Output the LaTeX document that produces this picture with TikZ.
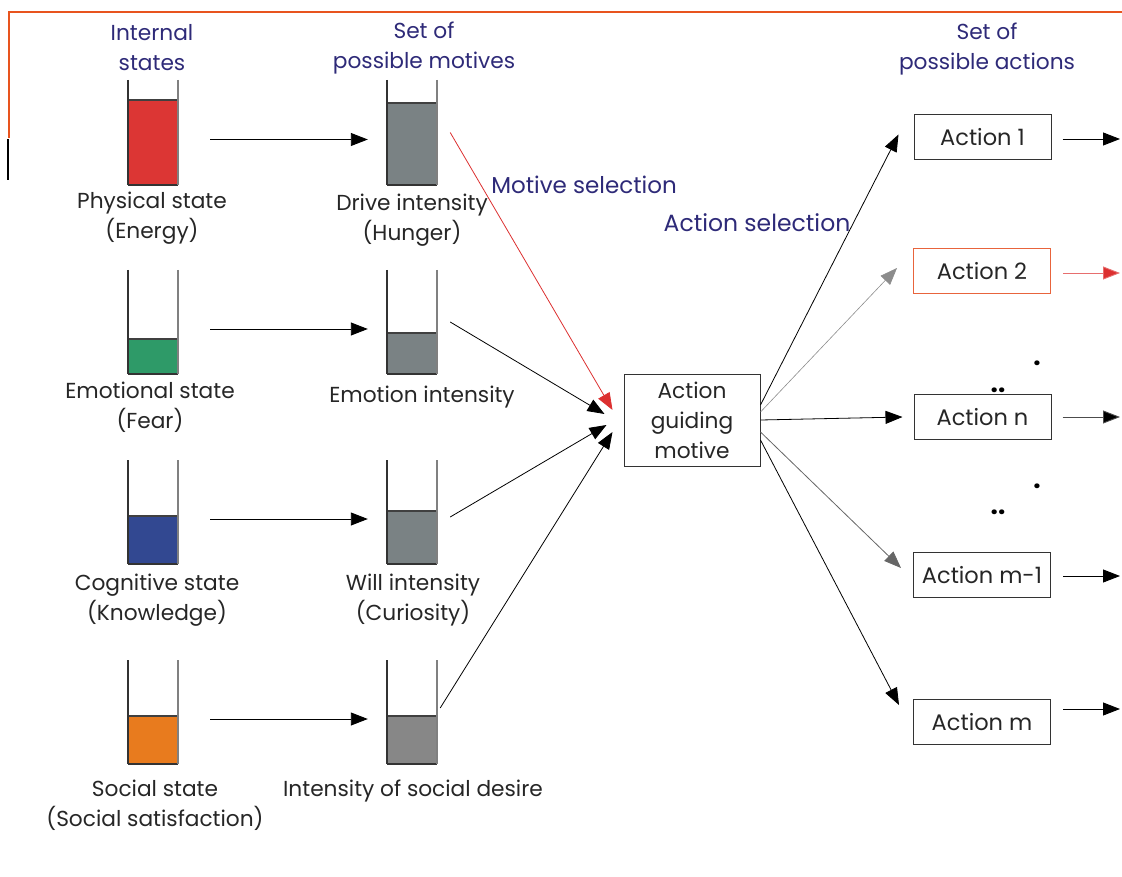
\documentclass[tikz,border=0pt]{standalone}
\usepackage{fontspec}
\setmainfont{Poppins}
\usetikzlibrary{arrows.meta}
\definecolor{hdr}{HTML}{2E2A78}
\definecolor{frameorange}{HTML}{E8541E}
\definecolor{redfill}{HTML}{DC3634}
\definecolor{greenfill}{HTML}{2E9A68}
\definecolor{bluefill}{HTML}{324891}
\definecolor{orangefill}{HTML}{E87B1E}
\definecolor{grayfill}{HTML}{7A8284}
\definecolor{grayfillb}{HTML}{878787}
\definecolor{act2}{HTML}{E8643C}
\definecolor{redarr}{HTML}{DC3030}
\newcommand\jar[6]{% name, xcenter, ytop, yfill, ybottom, colour
  \node[jarnode, minimum height={#5pt-#3pt}] (#1) at (#2,{(#3+#5)/2}) {};
  \fill[#6] (#2-25,#4) rectangle (#2+25,#5);
  \draw[line width=1.1pt, black!75] (#2-25,#4) -- (#2+25,#4);
  \draw[line width=1.1pt, black!80] (#2-25,#5) -- (#2+25,#5);
  \draw[line width=1.2pt, black!80] (#2-25,#3) -- (#2-25,#5);
  \draw[line width=1.2pt, black!50] (#2+25,#3) -- (#2+25,#5);
}
\begin{document}
\begin{tikzpicture}[x=1pt,y=-1pt,
  every node/.style={font=\fontsize{21.7}{30}\selectfont, align=center, inner sep=0pt},
  jarnode/.style={minimum width=50pt, inner sep=0pt},
  hdrtext/.style={text=hdr},
  lbl/.style={text=black!85},
  arr/.style={-{Triangle[length=17pt,width=13pt]}, line width=0.9pt, black},
  darr/.style={-{Triangle[length=17pt,width=13pt]}, line width=0.8pt, black},
  abox/.style={draw=black!80, line width=1pt, minimum width=137pt, minimum height=45pt, text=black!85, font=\fontsize{22.5}{30}\selectfont},
  dotnode/.style={anchor=base, font=\fontsize{26}{30}\selectfont\bfseries},
  ]
\useasboundingbox (0,0) rectangle (1122,877);
% frame
\draw[frameorange, line width=1.5pt] (9,138) -- (9,12) -- (1122,12);
\draw[black, line width=1.2pt] (8,139) -- (8,180);
% headers
\node[hdrtext] (h1) at (152,48) {Internal\\states};
\node[hdrtext] (h2) at (424,48) {Set of\\possible motives};
\node[hdrtext] (h3) at (987,49) {Set of\\possible actions};
% jars
\jar{p1}{153}{80}{100}{185}{redfill}
\jar{p2}{153}{270}{339}{374}{greenfill}
\jar{p3}{153}{460}{516}{564}{bluefill}
\jar{p4}{153}{660}{716}{764}{orangefill}
\jar{m1}{412}{80}{103}{185}{grayfill}
\jar{m2}{412}{270}{333}{374}{grayfill}
\jar{m3}{412}{460}{511}{564}{grayfill}
\jar{m4}{412}{660}{716}{764}{grayfillb}
% labels
\node[lbl] (l1) at (152,218) {Physical state\\(Energy)};
\node[lbl] (r1) at (412,220) {Drive intensity\\(Hunger)};
\node[lbl] (l2) at (150,407) {Emotional state\\(Fear)};
\node[lbl] (r2) at (422,397) {Emotion intensity};
\node[lbl] (l3) at (157,600) {Cognitive state\\(Knowledge)};
\node[lbl] (r3) at (413,600) {Will intensity\\(Curiosity)};
\node[lbl] (l4) at (155,805) {Social state\\(Social satisfaction)};
\node[lbl] (r4) at (413,791) {Intensity of social desire};
\node[hdrtext, font=\fontsize{23}{30}\selectfont] (ms) at (584,185) {Motive selection};
\node[hdrtext, font=\fontsize{23.5}{30}\selectfont] (as) at (757,223) {Action selection};
% horizontal arrows
\foreach \i in {1,2,3,4}{
  \draw[arr] ([xshift=32pt,yshift=-7pt]p\i.east) -- ([xshift=-19pt,yshift=-7pt]m\i.west);
}
% central box
\node[draw=black!80, line width=1pt, minimum width=136pt, minimum height=92pt, text=black!85] (mot) at (692,420) {Action\\guiding\\motive};
% arrows into box
\draw[-{Triangle[length=17pt,width=13pt]}, line width=0.8pt, redarr] ([xshift=13pt]m1.east) -- ([xshift=-11pt,yshift=10pt]mot.west);
\draw[darr] ([xshift=13pt]m2.east) -- ([xshift=-19pt,yshift=6pt]mot.west);
\draw[darr] ([xshift=13pt,yshift=-5pt]m3.east) -- ([xshift=-17pt,yshift=-5pt]mot.west);
\draw[darr] ([xshift=3pt,yshift=4pt]m4.east) -- ([xshift=-11pt,yshift=-12pt]mot.west);
% action boxes
\node[abox] (a1) at (982.5,137.5) {Action 1};
\node[abox, draw=act2] (a2) at (982,271) {Action 2};
\node[abox] (an) at (982.5,417) {Action n};
\node[abox] (am1) at (982,575) {Action m-1};
\node[abox] (am) at (982,722) {Action m};
% dots
\node[dotnode] (d1) at (1037,366) {.};
\node[dotnode] (d2) at (998,392) {..};
\node[dotnode] (d3) at (1037,488) {.};
\node[dotnode] (d4) at (998,514) {..};
% arrows out of box
\draw[darr] ([yshift=15pt]mot.east) -- ([xshift=-15pt,yshift=3pt]a1.west);
\draw[darr, black!45, line width=0.6pt] ([yshift=8pt]mot.east) -- ([xshift=-16pt,yshift=3pt]a2.west);
\draw[darr] ([yshift=0pt]mot.east) -- ([xshift=-11pt]an.west);
\draw[darr, black!60] ([yshift=-12pt]mot.east) -- ([xshift=-12pt,yshift=7pt]am1.west);
\draw[darr] ([yshift=-20pt]mot.east) -- ([xshift=-14pt,yshift=17pt]am.west);
% outgoing arrows
\coordinate (o1) at (1120,139);
\coordinate (o2) at (1120,273);
\coordinate (on) at (1120,417);
\coordinate (om1) at (1120,576);
\coordinate (om) at (1120,709);
\draw[arr] ([xshift=11pt,yshift=-1.5pt]a1.east) -- (o1);
\draw[line width=0.9pt, redarr!70, -{Triangle[length=17pt,width=13pt,fill=redarr]}] ([xshift=12pt,yshift=-2pt]a2.east) -- (o2);
\draw[line width=0.9pt, black!70, -{Triangle[length=17pt,width=13pt,fill=black]}] ([xshift=11pt]an.east) -- (on);
\draw[arr] ([xshift=12pt,yshift=-1pt]am1.east) -- (om1);
\draw[arr] ([xshift=12pt,yshift=13pt]am.east) -- (om);
\end{tikzpicture}
\end{document}
